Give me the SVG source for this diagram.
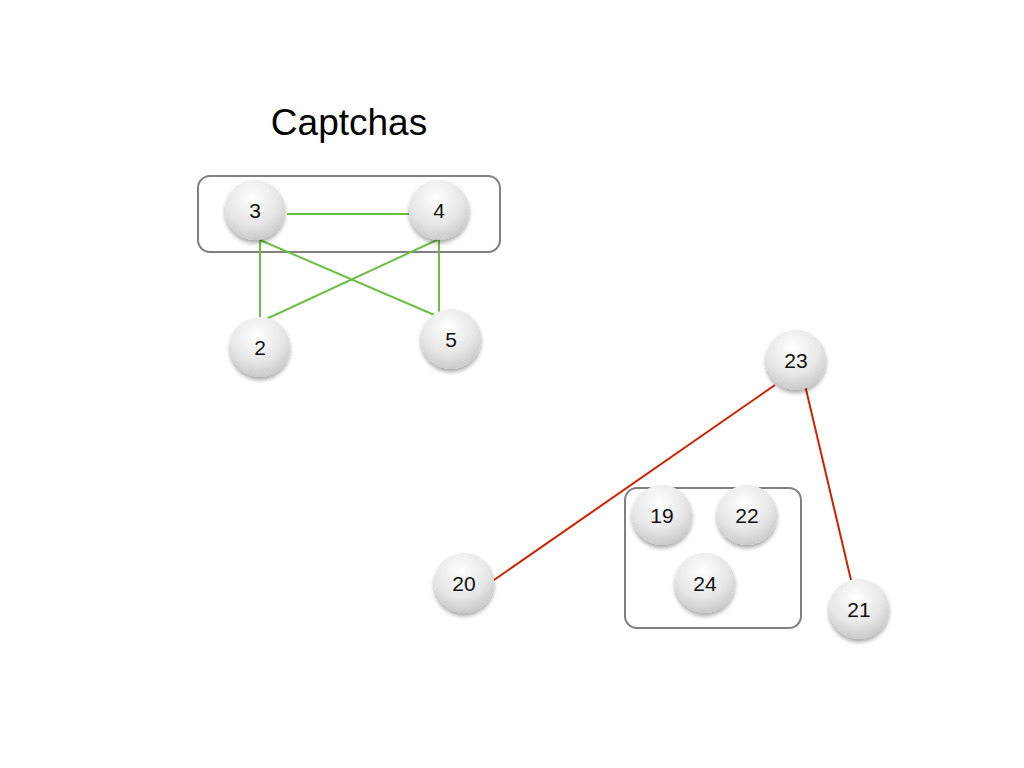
<svg xmlns="http://www.w3.org/2000/svg" width="1024" height="768" viewBox="0 0 1024 768">
<defs>
<radialGradient id="g" cx="0.45" cy="0.3" r="0.75">
<stop offset="0" stop-color="#ffffff"/>
<stop offset="0.6" stop-color="#e6e6e6"/>
<stop offset="1" stop-color="#c4c4c4"/>
</radialGradient>
<filter id="sh" x="-30%" y="-30%" width="160%" height="170%">
<feGaussianBlur in="SourceAlpha" stdDeviation="2"/>
<feOffset dy="3"/>
<feComponentTransfer><feFuncA type="linear" slope="0.35"/></feComponentTransfer>
<feMerge><feMergeNode/><feMergeNode in="SourceGraphic"/></feMerge>
</filter>
</defs>
<style>
.n circle{fill:url(#g);filter:url(#sh);}
.n text{font-family:"Liberation Sans",Arial,sans-serif;font-size:21px;fill:#111;text-anchor:middle;}
.box{fill:none;stroke:#808080;stroke-width:2;}
.gr{stroke:#6cbf44;stroke-width:2;fill:none;}
.rd{stroke:#cc2200;stroke-width:2;fill:none;}
.title{font-family:"Liberation Sans",Arial,sans-serif;font-size:37px;fill:#000;text-anchor:middle;}
</style>
<rect width="1024" height="768" fill="#fff"/>
<text class="title" x="349" y="135">Captchas</text>
<rect class="box" x="198" y="176" width="302" height="76" rx="12"/>
<rect class="box" x="625" y="488" width="176" height="140" rx="12"/>
<g id="connectors">
<line class="gr" x1="287" y1="214" x2="409" y2="214"/>
<line class="gr" x1="260" y1="240" x2="260" y2="321"/>
<line class="gr" x1="260" y1="240" x2="439" y2="317"/>
<line class="gr" x1="439" y1="239" x2="262" y2="321"/>
<line class="gr" x1="439" y1="239" x2="439" y2="317"/>
<line class="rd" x1="775" y1="385" x2="494" y2="580"/>
<line class="rd" x1="805" y1="385" x2="851" y2="580"/>
</g>
<g id="n3" class="n"><circle cx="255" cy="210" r="30"/><text x="255" y="218">3</text></g>
<g id="n4" class="n"><circle cx="439" cy="210" r="30"/><text x="439" y="218">4</text></g>
<g id="n2" class="n"><circle cx="260" cy="347" r="30"/><text x="260" y="355">2</text></g>
<g id="n5" class="n"><circle cx="451" cy="339" r="30"/><text x="451" y="347">5</text></g>
<g id="n23" class="n"><circle cx="796" cy="360" r="30"/><text x="796" y="368">23</text></g>
<g id="n20" class="n"><circle cx="464" cy="583" r="30"/><text x="464" y="591">20</text></g>
<g id="n19" class="n"><circle cx="662" cy="515" r="30"/><text x="662" y="523">19</text></g>
<g id="n22" class="n"><circle cx="747" cy="515" r="30"/><text x="747" y="523">22</text></g>
<g id="n24" class="n"><circle cx="705" cy="583" r="30"/><text x="705" y="591">24</text></g>
<g id="n21" class="n"><circle cx="859" cy="609" r="30"/><text x="859" y="617">21</text></g>
</svg>
